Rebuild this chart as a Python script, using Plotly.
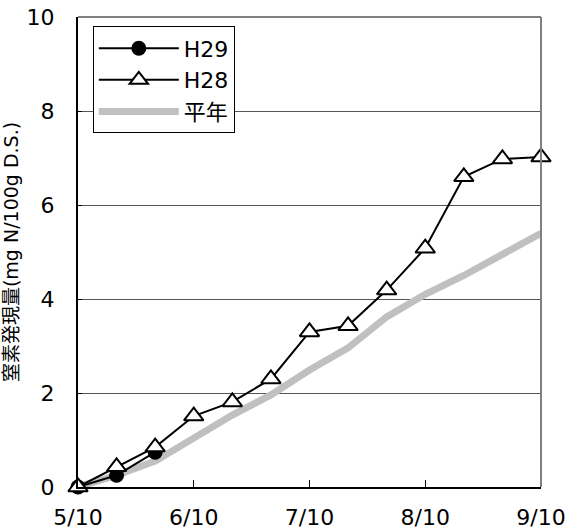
import plotly.graph_objects as go

categories = ["5/10", "5/20", "5/30", "6/10", "6/20", "6/30", "7/10",
              "7/20", "7/30", "8/10", "8/20", "8/30", "9/10"]
h28 = [0, 0.43, 0.85, 1.51, 1.81, 2.3, 3.3, 3.43, 4.19, 5.08, 6.6, 6.98, 7.02]
h29_categories = ["5/10", "5/20", "5/30"]
h29 = [0, 0.25, 0.74]
normal = [0, 0.25, 0.55, 1.05, 1.53, 1.96, 2.49, 2.96, 3.62, 4.1, 4.5, 4.95, 5.4]
x_tick_labels = ["5/10", "6/10", "7/10", "8/10", "9/10"]
y_ticks = [0, 2, 4, 6, 8, 10]

FONT = "DejaVu Sans, Noto Sans CJK JP"

fig = go.Figure()
fig.add_trace(go.Scatter(
    x=categories, y=normal, name="平年", mode="lines",
    line=dict(color="#c0c0c0", width=7), legendrank=3, cliponaxis=False))
fig.add_trace(go.Scatter(
    x=h29_categories, y=h29, name="H29", mode="lines+markers",
    line=dict(color="black", width=2),
    marker=dict(symbol="circle", size=15, color="black"),
    legendrank=1, cliponaxis=False))
fig.add_trace(go.Scatter(
    x=categories, y=h28, name="H28", mode="lines+markers",
    line=dict(color="black", width=2),
    marker=dict(symbol="triangle-up", size=17, color="white",
                line=dict(color="black", width=2)),
    legendrank=2, cliponaxis=False))

fig.update_layout(
    width=570, height=531,
    margin=dict(l=78, r=29, t=17, b=44),
    paper_bgcolor="white", plot_bgcolor="white",
    font=dict(family=FONT, size=21, color="black"),
    showlegend=True,
    legend=dict(x=0.032, y=0.98, xanchor="left", yanchor="top",
                bgcolor="white", bordercolor="black", borderwidth=1,
                font=dict(size=22, family=FONT), itemwidth=80,
                tracegroupgap=0),
    xaxis=dict(type="category", categoryorder="array", categoryarray=categories,
               range=[0, 12], tickvals=x_tick_labels, ticktext=x_tick_labels,
               showgrid=False, showline=True, linecolor="black", linewidth=2,
               ticks="inside", ticklen=7, tickcolor="black", tickwidth=1,
               tickfont=dict(size=22), zeroline=False, automargin=False,
               ticklabelstandoff=10, ticklabeloverflow="allow"),
    yaxis=dict(range=[0, 10], tickvals=y_ticks,
               showgrid=True, gridcolor="#555555", gridwidth=1,
               showline=True, linecolor="black", linewidth=2,
               ticks="inside", ticklen=4, tickcolor="black",
               tickfont=dict(size=22), zeroline=False, automargin=False,
               ticklabelstandoff=17, ticklabeloverflow="allow",
               title=dict(text="窒素発現量(mg N/100g D.S.)", font=dict(size=19),
                          standoff=4)),
    shapes=[
        dict(type="line", xref="paper", yref="paper", x0=0, x1=1, y0=1, y1=1,
             line=dict(color="#808080", width=2)),
        dict(type="line", xref="paper", yref="paper", x0=1, x1=1, y0=0, y1=1,
             line=dict(color="#808080", width=2)),
    ],
)

fig.write_html("out.html", config={"displayModeBar": False},
               post_script="document.body.style.margin='0';document.body.style.overflow='hidden';")
